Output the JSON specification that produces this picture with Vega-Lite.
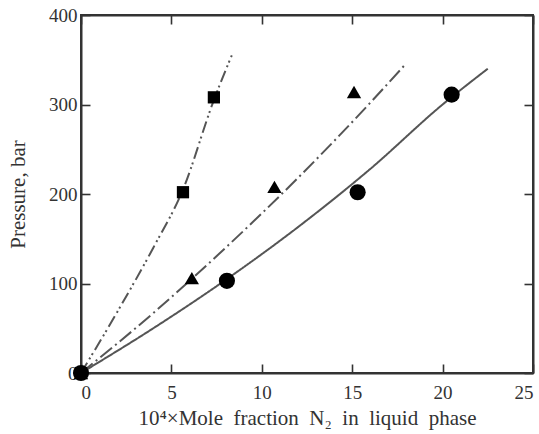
{
  "$schema": "https://vega.github.io/schema/vega-lite/v6.json",
  "width": 452,
  "height": 358,
  "autosize": "none",
  "padding": {"left": 81, "top": 15, "right": 6, "bottom": 61},
  "background": "white",
  "config": {
    "font": "Liberation Serif",
    "view": {"stroke": "#333", "strokeWidth": 2},
    "axis": {
      "grid": false,
      "domainColor": "#333",
      "domainWidth": 2,
      "tickColor": "#333",
      "tickWidth": 1.6,
      "tickSize": -9,
      "labelFont": "Liberation Serif",
      "labelFontSize": 19,
      "labelColor": "#333",
      "titleFont": "Liberation Serif",
      "titleFontSize": 21,
      "titleFontWeight": "normal",
      "titleColor": "#333"
    }
  },
  "datasets": {
    "pts": [
      {"x": 0, "p": 0, "s": "A"},
      {"x": 5.64, "p": 202, "s": "A"},
      {"x": 7.35, "p": 308, "s": "A"},
      {"x": 0, "p": 0, "s": "B"},
      {"x": 6.13, "p": 106, "s": "B"},
      {"x": 10.7, "p": 208, "s": "B"},
      {"x": 15.1, "p": 314, "s": "B"},
      {"x": 0, "p": 0, "s": "C"},
      {"x": 8.07, "p": 103, "s": "C"},
      {"x": 15.3, "p": 202, "s": "C"},
      {"x": 20.5, "p": 311, "s": "C"}
    ],
    "lines": [
      {"x": 0, "p": 0, "s": "A"},
      {"x": 2, "p": 68, "s": "A"},
      {"x": 4, "p": 140, "s": "A"},
      {"x": 5.64, "p": 205, "s": "A"},
      {"x": 7.35, "p": 305, "s": "A"},
      {"x": 8.34, "p": 355, "s": "A"},
      {"x": 0, "p": 0, "s": "B"},
      {"x": 4, "p": 67, "s": "B"},
      {"x": 8, "p": 140, "s": "B"},
      {"x": 12, "p": 218, "s": "B"},
      {"x": 16, "p": 302, "s": "B"},
      {"x": 17.9, "p": 344, "s": "B"},
      {"x": 0, "p": 0, "s": "C"},
      {"x": 4, "p": 50, "s": "C"},
      {"x": 8, "p": 104, "s": "C"},
      {"x": 12, "p": 163, "s": "C"},
      {"x": 16, "p": 228, "s": "C"},
      {"x": 20, "p": 300, "s": "C"},
      {"x": 22.5, "p": 340, "s": "C"}
    ]
  },
  "resolve": {"axis": {"x": "independent", "y": "independent"}},
  "layer": [
    {
      "data": {"name": "lines"},
      "mark": {"type": "line", "color": "#555", "strokeWidth": 2, "interpolate": "monotone", "clip": false},
      "encoding": {
        "x": {"field": "x", "type": "quantitative", "scale": {"domain": [0, 25], "nice": false}, "axis": {"values": [0, 5, 10, 15, 20, 25], "labelFlush": true, "title": "10⁴×Mole\u2002fraction\u2002N₂\u2002in\u2002liquid\u2002phase", "titlePadding": 5, "labelPadding": 19}},
        "y": {"field": "p", "type": "quantitative", "scale": {"domain": [0, 400], "nice": false}, "axis": {"values": [0, 100, 200, 300, 400], "title": "Pressure, bar", "titlePadding": 20, "labelPadding": 13}},
        "detail": {"field": "s"},
        "strokeDash": {"field": "s", "type": "nominal", "scale": {"domain": ["A", "B", "C"], "range": [[12, 4, 2, 3, 2, 4], [15, 4, 2, 4], [1, 0]]}, "legend": null}
      }
    },
    {
      "data": {"name": "pts"},
      "mark": {"type": "point", "filled": true, "color": "black", "opacity": 1, "clip": false},
      "encoding": {
        "x": {"field": "x", "type": "quantitative", "axis": {"orient": "top", "values": [0, 5, 10, 15, 20, 25], "labels": false, "title": null}},
        "y": {"field": "p", "type": "quantitative", "axis": {"orient": "right", "values": [0, 100, 200, 300, 400], "labels": false, "title": null}},
        "shape": {"field": "s", "type": "nominal", "scale": {"domain": ["A", "B", "C"], "range": ["square", "triangle-up", "circle"]}, "legend": null},
        "size": {"field": "s", "type": "nominal", "scale": {"domain": ["A", "B", "C"], "range": [150, 260, 180]}, "legend": null}
      }
    }
  ]
}
